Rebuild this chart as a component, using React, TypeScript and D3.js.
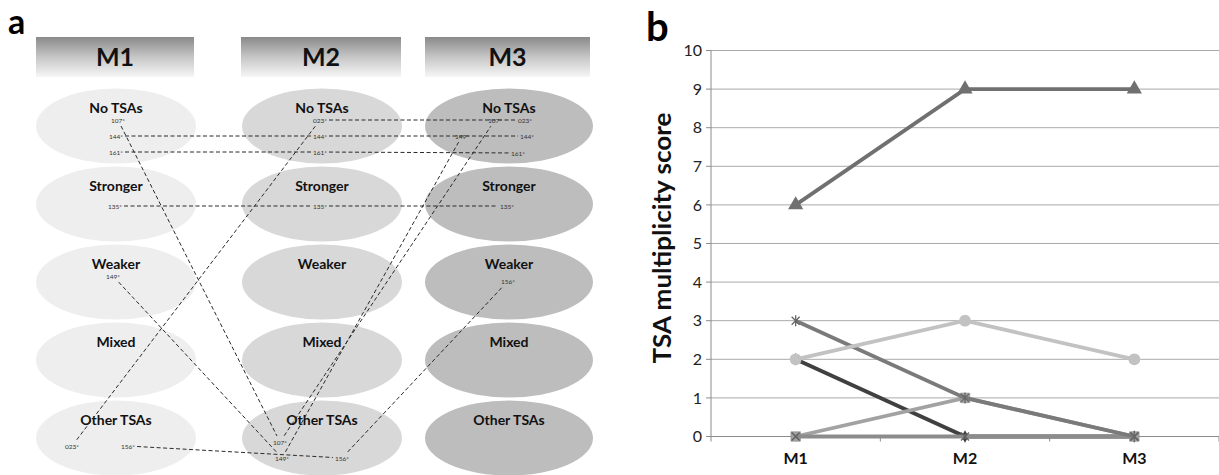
import React from 'react';
import * as d3 from 'd3';

// panel a data
const models = ['M1', 'M2', 'M3'];
const states = ['No TSAs', 'Stronger', 'Weaker', 'Mixed', 'Other TSAs'];
const patients = ['107*', '144*', '161*', '135*', '023*', '149*', '156*'];
// state index of each patient in M1, M2, M3
const patientStates = [
  [0, 4, 0],
  [0, 0, 0],
  [0, 0, 0],
  [1, 1, 1],
  [4, 0, 0],
  [2, 4, 0],
  [4, 4, 2],
];

// panel b data
const scoreTicks = [0, 1, 2, 3, 4, 5, 6, 7, 8, 9, 10];
const seriesDark = [2, 0, 0];
const seriesSquare = [0, 1, 0];
const seriesTriangle = [6, 9, 9];
const seriesCross = [0, 0, 0];
const seriesStar = [3, 1, 0];
const seriesCircle = [2, 3, 2];

// layout only: where each patient label sits inside its ellipse (dx, dy per model)
const labelNudge = [
  [[2, -5], [-42, 5], [-14, -5]],
  [[0, 11], [-2, 11], [18, 11]],
  [[0, 27], [-2, 27], [9, 28]],
  [[-1, 3], [-2, 3], [-2, 3]],
  [[-44, 9], [-2, -5], [16, -5]],
  [[-3, -5], [-40, 21], [-47, 11]],
  [[12, 9], [20, 21], [-1, 0]],
];
const headerLeft = [36, 241, 425];
const headerWidth = [158, 160, 165];
const ellipseRx = [80, 80, 84];
const ellipseFill = ['#eeeeee', '#d8d8d8', '#bdbdbd'];

const FONT = "Lato, 'Open Sans', sans-serif";

function PanelA() {
  const colX = d3.scaleOrdinal<string, number>().domain(models).range([116, 322, 509]);
  const rowY = d3.scaleBand().domain(states).range([87, 477]);
  const cy = (s: string) => (rowY(s) as number) + rowY.bandwidth() / 2;

  const pos = (p: number, m: number) => {
    const st = states[patientStates[p][m]];
    return [colX(models[m]) + labelNudge[p][m][0], cy(st) + labelNudge[p][m][1]];
  };

  const segs: { x1: number; y1: number; x2: number; y2: number; key: string }[] = [];
  patients.forEach((_, p) => {
    for (let m = 0; m < models.length - 1; m++) {
      const [ax, ay] = pos(p, m);
      const [bx, by] = pos(p, m + 1);
      const len = Math.hypot(bx - ax, by - ay);
      const ux = (bx - ax) / len, uy = (by - ay) / len;
      const trim = Math.abs(ux) * 9 + Math.abs(uy) * 3;
      segs.push({
        x1: ax + ux * trim, y1: ay - 1 + uy * trim,
        x2: bx - ux * trim, y2: by - 1 - uy * trim,
        key: p + '-' + m,
      });
    }
  });

  return (
    <g>
      <defs>
        <linearGradient id="hdr" x1="0" y1="0" x2="0" y2="1">
          <stop offset="0" stopColor="#8a8a8a" />
          <stop offset="0.5" stopColor="#c6c6c6" />
          <stop offset="1" stopColor="#f6f6f6" />
        </linearGradient>
      </defs>
      <text x={8} y={34} fontFamily={FONT} fontWeight="bold" fontSize={34}>a</text>
      {models.map((m, i) => (
        <g key={m}>
          <rect x={headerLeft[i]} y={37} width={headerWidth[i]} height={40} fill="url(#hdr)" />
          <text x={headerLeft[i] + headerWidth[i] / 2} y={57} dy="0.35em" textAnchor="middle"
            fontFamily={FONT} fontWeight="bold" fontSize={25} fill="#111">{m}</text>
          {states.map(s => (
            <g key={s}>
              <ellipse cx={colX(m)} cy={cy(s)} rx={ellipseRx[i]} ry={37.5} fill={ellipseFill[i]} />
              <text x={colX(m)} y={cy(s) - 18} dy="0.35em" textAnchor="middle"
                fontFamily={FONT} fontWeight="bold" fontSize={14} fill="#111">{s}</text>
            </g>
          ))}
        </g>
      ))}
      {segs.map(s => (
        <line key={s.key} x1={s.x1} y1={s.y1} x2={s.x2} y2={s.y2}
          stroke="#2a2a2a" strokeWidth={1} strokeDasharray="4,2.5" />
      ))}
      {patients.map((pt, p) => models.map((_, m) => {
        const [x, y] = pos(p, m);
        return (
          <text key={pt + m} x={x} y={y} dy="0.35em" textAnchor="middle"
            fontFamily={FONT} fontSize={6.5} fill="#333">{pt}</text>
        );
      }))}
    </g>
  );
}

function PanelB() {
  const x = d3.scaleBand().domain(models).range([711, 1219]);
  const y = d3.scaleLinear().domain([0, 10]).range([436.5, 50.5]);
  const cx = (m: string) => (x(m) as number) + x.bandwidth() / 2;
  const line = d3.line<number>().x((_, i) => cx(models[i])).y(d => y(d));

  const sym = (type: d3.SymbolType, size: number) => d3.symbol().type(type).size(size)() as string;

  const cross = (px: number, py: number, r: number, color: string, vert: boolean, key: string) => (
    <g key={key} stroke={color} strokeWidth={1.3}>
      <line x1={px - r} y1={py - r} x2={px + r} y2={py + r} />
      <line x1={px - r} y1={py + r} x2={px + r} y2={py - r} />
      {vert && <line x1={px} y1={py - r - 1.5} x2={px} y2={py + r + 1.5} />}
    </g>
  );

  const series = [
    { data: seriesDark, color: '#404040', marker: 'diamond' },
    { data: seriesSquare, color: '#a2a2a2', marker: 'square' },
    { data: seriesTriangle, color: '#707070', marker: 'triangle' },
    { data: seriesCross, color: '#8c8c8c', marker: 'x' },
    { data: seriesStar, color: '#7a7a7a', marker: 'star' },
    { data: seriesCircle, color: '#c2c2c2', marker: 'circle' },
  ];

  const boundaries = [...models.map(m => x(m) as number), 1219];

  return (
    <g fontFamily={FONT}>
      <text x={646} y={41} fontWeight="bold" fontSize={40}>b</text>
      {scoreTicks.map(t => (
        <g key={t}>
          {t > 0 && <line x1={711} x2={1219} y1={y(t)} y2={y(t)} stroke="#a9a9a9" strokeWidth={1} />}
          <line x1={706} x2={711} y1={y(t)} y2={y(t)} stroke="#8c8c8c" />
          <text x={702} y={y(t)} dy="0.35em" textAnchor="end" fontSize={16} fill="#222">{t}</text>
        </g>
      ))}
      <line x1={711} x2={711} y1={y(10)} y2={y(0)} stroke="#8c8c8c" />
      <line x1={711} x2={1219} y1={y(0)} y2={y(0)} stroke="#8c8c8c" />
      {boundaries.map((b, i) => (
        <line key={i} x1={b} x2={b} y1={y(0)} y2={y(0) + 5} stroke="#8c8c8c" />
      ))}
      {models.map(m => (
        <text key={m} x={cx(m)} y={458} dy="0.35em" textAnchor="middle" fontWeight="bold" fontSize={16} fill="#111">{m}</text>
      ))}
      <text transform="translate(662,238) rotate(-90)" textAnchor="middle" dy="0.35em"
        fontWeight="bold" fontSize={25} textLength={251} lengthAdjust="spacingAndGlyphs" fill="#111">
        TSA multiplicity score
      </text>
      {series.map((s, si) => (
        <g key={si}>
          <path d={line(s.data) as string} fill="none" stroke={s.color} strokeWidth={3.8} />
          {s.data.map((v, i) => {
            const px = cx(models[i]), py = y(v);
            const k = si + '-' + i;
            if (s.marker === 'triangle')
              return <path key={k} d={sym(d3.symbolTriangle, 100)} transform={`translate(${px},${py})`} fill={s.color} />;
            if (s.marker === 'square')
              return <path key={k} d={sym(d3.symbolSquare, 90)} transform={`translate(${px},${py})`} fill={s.color} stroke="#888" strokeWidth={0.6} />;
            if (s.marker === 'circle')
              return <path key={k} d={sym(d3.symbolCircle, 110)} transform={`translate(${px},${py})`} fill={s.color} />;
            if (s.marker === 'diamond')
              return <path key={k} d={sym(d3.symbolDiamond, 45)} transform={`translate(${px},${py})`} fill={s.color} />;
            if (s.marker === 'x') return cross(px, py, 4, '#5e5e5e', false, k);
            return cross(px, py, 4, '#666', true, k);
          })}
        </g>
      ))}
    </g>
  );
}

export default function App() {
  return (
    <svg width={1219} height={475} style={{ position: 'absolute', left: 0, top: 0, background: '#fff' }}>
      <rect width={1219} height={475} fill="#fff" />
      <PanelA />
      <PanelB />
    </svg>
  );
}
